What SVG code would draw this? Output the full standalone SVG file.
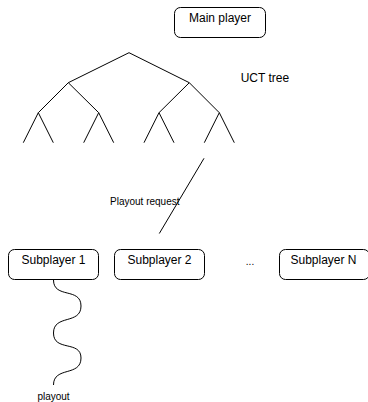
<svg xmlns="http://www.w3.org/2000/svg" width="368" height="402" viewBox="0 0 368 402">
<style>
.box{fill:#fff;stroke:#000;stroke-width:1}
.ln{fill:none;stroke:#000;stroke-width:1}
text{font-family:"Liberation Sans",Arial,sans-serif;fill:#000}
.l{font-size:12px;text-anchor:middle}
.s{font-size:10px}
</style>
<rect width="368" height="402" fill="#fff"/>
<g id="main-player"><rect class="box" x="174.5" y="7.5" width="91" height="30" rx="6"/><text class="l" x="220" y="22">Main player</text></g>
<g id="uct-tree">
<path class="ln" d="M68.3,82.7 L129,52.7 L189.3,82.7 M38.3,112.7 L68.3,82.7 L98.7,112.7 M159,112.7 L189.3,82.7 L219.3,112.7 M23.3,142.7 L38.3,112.7 L53.3,142.7 M83.7,142.7 L98.7,112.7 L113.7,142.7 M144,142.7 L159,112.7 L174,142.7 M204.3,142.7 L219.3,112.7 L234.3,142.7"/>
<text x="240.7" y="82" style="font-size:12px">UCT tree</text>
</g>
<g id="subplayer-1"><rect class="box" x="8.5" y="249.5" width="90" height="30" rx="6"/><text class="l" x="53.5" y="264">Subplayer 1</text></g>
<g id="subplayer-2"><rect class="box" x="114.5" y="249.5" width="90" height="30" rx="6"/><text class="l" x="159.5" y="264">Subplayer 2</text></g>
<g id="ellipsis"><text class="l" x="250" y="265" style="font-size:10px">...</text></g>
<g id="subplayer-n"><rect class="box" x="279.5" y="249.5" width="90" height="30" rx="6"/><text class="l" x="323.5" y="264">Subplayer N</text></g>
<g id="connectors">
<path class="ln" d="M204,158.3 L159.3,233.5"/>
<text class="s" x="110" y="205">Playout request</text>
<path class="ln" d="M53.5,280 C53.5,299 81,287 81,306 C81,325 53.5,314 53.5,333 C53.5,352 81,340 81,358 C81,377 53.5,366 53.5,385"/>
<text class="s" x="53.5" y="400" style="text-anchor:middle">playout</text>
</g>
</svg>
